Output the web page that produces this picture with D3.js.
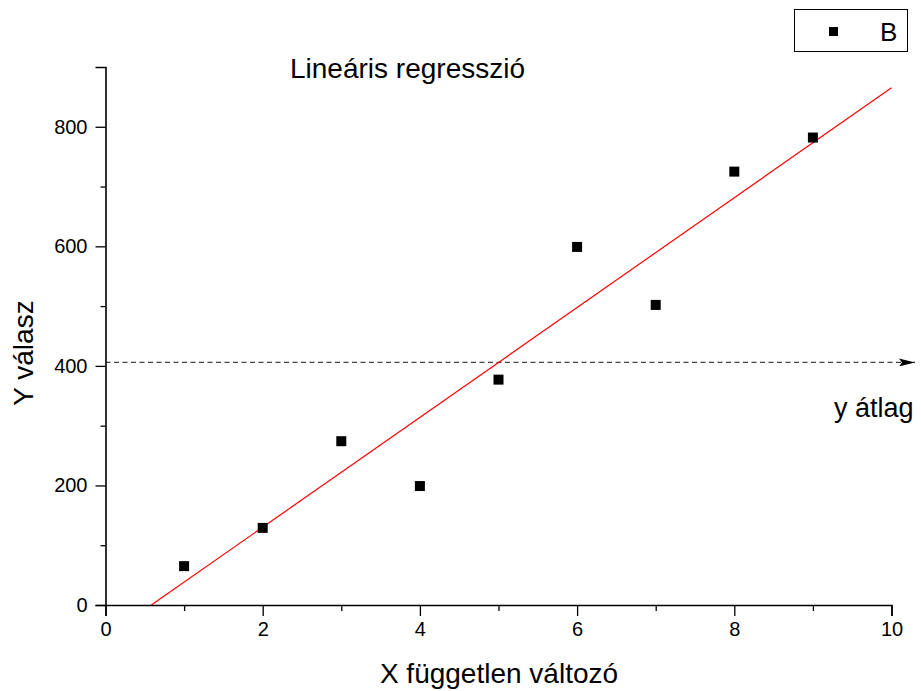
<!DOCTYPE html>
<html>
<head>
<meta charset="utf-8">
<script src="https://cdn.jsdelivr.net/npm/d3@7"></script>
<style>
  body { margin: 0; background: #fff; }
  svg { font-family: "Liberation Sans", Arial, sans-serif; }
</style>
</head>
<body>
<div id="chart"></div>
<script>
// data
const xValues = [1, 2, 3, 4, 5, 6, 7, 8, 9];
const yValues = [65, 129, 274, 199, 377, 599, 502, 725, 782];
const xTicks = [0, 2, 4, 6, 8, 10];
const xMinorTicks = [1, 3, 5, 7, 9];
const yTicks = [0, 200, 400, 600, 800];
const yMinorTicks = [100, 300, 500, 700];
const seriesName = 'B';

const width = 921, height = 691;

const svg = d3.select('#chart').append('svg')
  .attr('width', width)
  .attr('height', height);

const xScale = d3.scaleLinear().domain([0, 10]).range([105.5, 891.5]);
const yScale = d3.scaleLinear().domain([0, 900]).range([605, 67]);

// regression from the points
const xMean = d3.mean(xValues);
const yMean = d3.mean(yValues);
let sxy = 0, sxx = 0;
xValues.forEach((x, i) => {
  sxy += (x - xMean) * (yValues[i] - yMean);
  sxx += (x - xMean) * (x - xMean);
});
const slope = sxy / sxx;
const intercept = yMean - slope * xMean;

// mean line (dashed with arrow)
svg.append('defs').append('marker')
  .attr('id', 'arrow')
  .attr('viewBox', '0 0 16 8')
  .attr('refX', 16).attr('refY', 4)
  .attr('markerWidth', 16).attr('markerHeight', 8)
  .attr('markerUnits', 'userSpaceOnUse')
  .attr('orient', 'auto')
  .append('path')
  .attr('d', 'M0,0 L16,4 L0,8 L3,4 Z')
  .attr('fill', '#000');

svg.append('line')
  .attr('x1', xScale(0)).attr('x2', 915)
  .attr('y1', yScale(yMean)).attr('y2', yScale(yMean))
  .attr('stroke', '#444')
  .attr('stroke-width', 1.2)
  .attr('stroke-dasharray', '5,3.5')
  .attr('marker-end', 'url(#arrow)');

// regression line
const x0 = -intercept / slope;
const line = d3.line()
  .x(d => xScale(d))
  .y(d => yScale(slope * d + intercept));
svg.append('path')
  .datum([x0, 10])
  .attr('d', line)
  .attr('fill', 'none')
  .attr('stroke', '#ff0000')
  .attr('stroke-width', 1.2);

// axes
svg.append('g')
  .attr('transform', `translate(0, ${yScale(0)})`)
  .call(d3.axisBottom(xScale).tickValues(xTicks).tickSize(11).tickPadding(6).tickFormat(d3.format('d')));
svg.append('g')
  .attr('transform', `translate(0, ${yScale(0)})`)
  .call(d3.axisBottom(xScale).tickValues(xMinorTicks).tickSize(6).tickFormat(''))
  .select('.domain').remove();

svg.append('g')
  .attr('transform', `translate(${xScale(0)}, 0)`)
  .call(d3.axisLeft(yScale).tickValues(yTicks).tickSize(10).tickPadding(8).tickFormat(d3.format('d')));
svg.append('g')
  .attr('transform', `translate(${xScale(0)}, 0)`)
  .call(d3.axisLeft(yScale).tickValues(yMinorTicks).tickSize(5).tickFormat(''))
  .select('.domain').remove();

svg.selectAll('.domain').attr('stroke', '#000').attr('stroke-width', 1.6);
svg.selectAll('.tick line').attr('stroke', '#000').attr('stroke-width', 1.3);
svg.selectAll('.tick text').attr('font-size', 20).attr('fill', '#000')
  .attr('font-family', '"Liberation Sans", Arial, sans-serif');

// points
svg.append('g').selectAll('rect')
  .data(xValues)
  .enter()
  .append('rect')
  .attr('x', (d) => xScale(d) - 5)
  .attr('y', (d, i) => yScale(yValues[i]) - 5)
  .attr('width', 10)
  .attr('height', 10)
  .attr('fill', '#000');

// texts
svg.append('text')
  .attr('x', 290).attr('y', 78)
  .attr('font-size', 28)
  .text('Lineáris regresszió');

svg.append('text')
  .attr('x', 834).attr('y', 417)
  .attr('font-size', 27)
  .text('y átlag');

svg.append('text')
  .attr('x', 499).attr('y', 683)
  .attr('text-anchor', 'middle')
  .attr('font-size', 28)
  .text('X független változó');

svg.append('text')
  .attr('transform', 'translate(33, 353) rotate(-90)')
  .attr('text-anchor', 'middle')
  .attr('font-size', 28)
  .text('Y válasz');

// legend
const legend = svg.append('g');
legend.append('rect')
  .attr('x', 794.5).attr('y', 9.5)
  .attr('width', 113).attr('height', 42)
  .attr('fill', '#fff')
  .attr('stroke', '#000')
  .attr('stroke-width', 1);
legend.append('rect')
  .attr('x', 829).attr('y', 27)
  .attr('width', 9).attr('height', 9)
  .attr('fill', '#000');
legend.append('text')
  .attr('x', 880).attr('y', 41)
  .attr('font-size', 26)
  .text(seriesName);
</script>
</body>
</html>
